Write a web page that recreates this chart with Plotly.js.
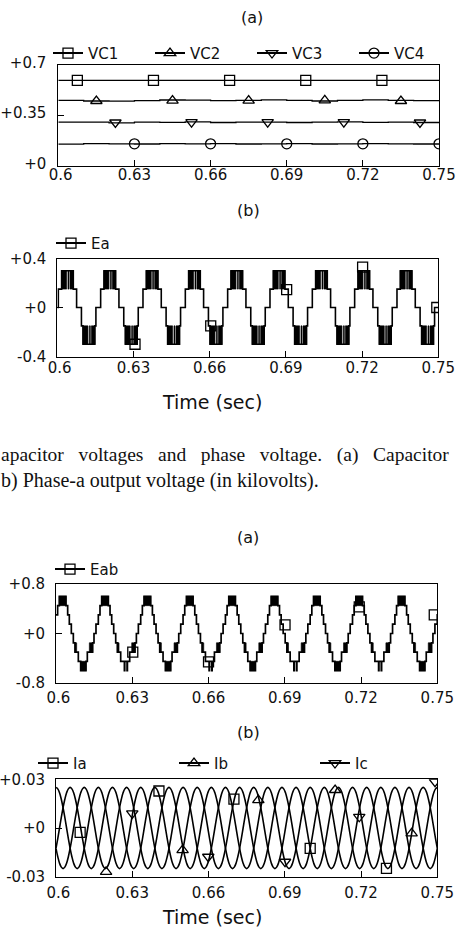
<!DOCTYPE html>
<html><head><meta charset="utf-8">
<script src="https://cdn.plot.ly/plotly-3.0.1.min.js"></script>
<style>html,body{margin:0;padding:0;background:#fff;}#chart{width:456px;height:932px;}</style>
</head><body><div id="chart"></div>
<script>
// ---------------- data ----------------
const xTickVals = [0.6, 0.63, 0.66, 0.69, 0.72, 0.75];
const xTickText = ['&nbsp;0.6', '0.63', '0.66', '0.69', '0.72', '0.75'];

// Fig (a) top: capacitor voltages (kV)
const vcTime = [0.6, 0.61, 0.62, 0.63, 0.64, 0.65, 0.66, 0.67, 0.68, 0.69, 0.70, 0.71, 0.72, 0.73, 0.74, 0.75];
const vc1 = [0.590, 0.591, 0.590, 0.590, 0.591, 0.590, 0.590, 0.591, 0.590, 0.590, 0.591, 0.590, 0.590, 0.590, 0.591, 0.590];
const vc2 = [0.452, 0.447, 0.446, 0.450, 0.454, 0.453, 0.449, 0.452, 0.455, 0.451, 0.447, 0.452, 0.455, 0.452, 0.449, 0.450];
const vc3 = [0.300, 0.300, 0.296, 0.301, 0.299, 0.302, 0.298, 0.300, 0.301, 0.298, 0.300, 0.302, 0.299, 0.300, 0.298, 0.300];
const vc4 = [0.148, 0.152, 0.150, 0.149, 0.151, 0.150, 0.152, 0.149, 0.150, 0.151, 0.149, 0.150, 0.151, 0.150, 0.149, 0.150];
const vc1MarkT = [0.6075, 0.6375, 0.6675, 0.6975, 0.7275];
const vc1MarkV = [0.590, 0.590, 0.590, 0.590, 0.590];
const vc2MarkT = [0.615, 0.645, 0.675, 0.705, 0.735];
const vc2MarkV = [0.447, 0.450, 0.450, 0.451, 0.447];
const vc3MarkT = [0.6225, 0.6525, 0.6825, 0.7125, 0.7425];
const vc3MarkV = [0.298, 0.300, 0.300, 0.300, 0.298];
const vc4MarkT = [0.63, 0.66, 0.69, 0.72, 0.75];
const vc4MarkV = [0.150, 0.150, 0.150, 0.150, 0.150];

// Fig (b) top: phase-a voltage, one fundamental cycle (ms) of the 5-level staircase
const fundPeriodMs = 1000 / 60;
const eaStepT = [0, 0.40, 1.70, 6.30, 7.60, 9.50, 10.10, 14.80, 15.20];
const eaStepV = [0, 0.15, 0.3, 0.15, 0, -0.15, -0.3, -0.15, 0];
// PWM switching bands (drawn solid) within a cycle
const eaBlkS = [1.70, 4.20, 5.00, 10.10, 12.60, 13.40];
const eaBlkE = [3.67, 4.60, 6.30, 12.07, 13.00, 14.80];
const eaBlkLo = [0.15, 0.15, 0.15, -0.3, -0.3, -0.3];
const eaBlkHi = [0.3, 0.3, 0.3, -0.15, -0.15, -0.15];
const eaMarkT = [0.6306, 0.6604, 0.6903, 0.7202, 0.7494];
const eaMarkV = [-0.30, -0.15, 0.146, 0.33, 0.0];

// Second figure (a): line voltage Eab, two-cycle pattern (ms)
const eabPatternMs = 2000 / 60;
const eabStepT = [0, 0.64, 1.30, 3.93, 4.59, 5.24, 6.03, 6.82, 7.47, 8.78, 9.70, 11.80, 12.32, 14.42, 14.95, 15.73, 16.65,
  17.31, 17.97, 20.60, 21.26, 21.91, 22.70, 23.49, 24.14, 25.45, 26.90, 27.05, 27.95, 28.10, 28.99, 31.09, 31.62, 32.40, 33.32];
const eabStepV = [0.3, 0.45, 0.6, 0.45, 0.3, 0.15, 0, -0.15, -0.3, -0.45, -0.6, -0.45, -0.3, -0.15, 0, 0.15, 0.3,
  0.45, 0.6, 0.45, 0.3, 0.15, 0, -0.15, -0.3, -0.45, -0.6, -0.45, -0.6, -0.45, -0.3, -0.15, 0, 0.15, 0.3];
const eabBlkS = [1.30, 7.47, 9.70, 13.11, 17.97, 24.14, 29.78];
const eabBlkE = [3.93, 8.13, 11.80, 14.42, 20.60, 24.80, 31.09];
const eabBlkLo = [0.45, -0.3, -0.6, -0.3, 0.45, -0.3, -0.3];
const eabBlkHi = [0.6, -0.15, -0.45, -0.15, 0.6, -0.15, -0.15];
const eabMarkT = [0.6302, 0.6600, 0.6901, 0.7193, 0.7488];
const eabMarkV = [-0.30, -0.46, 0.14, 0.43, 0.30];

// Second figure (b): line currents, one cycle sampled every 15 degrees
const iaCycle = [-0.0125, -0.0065, 0, 0.0065, 0.0125, 0.0177, 0.0217, 0.0241, 0.025, 0.0241, 0.0217, 0.0177,
  0.0125, 0.0065, 0, -0.0065, -0.0125, -0.0177, -0.0217, -0.0241, -0.025, -0.0241, -0.0217, -0.0177];
const ibCycle = [-0.0125, -0.0177, -0.0217, -0.0241, -0.025, -0.0241, -0.0217, -0.0177, -0.0125, -0.0065, 0, 0.0065,
  0.0125, 0.0177, 0.0217, 0.0241, 0.025, 0.0241, 0.0217, 0.0177, 0.0125, 0.0065, 0, -0.0065];
const icCycle = [0.025, 0.0241, 0.0217, 0.0177, 0.0125, 0.0065, 0, -0.0065, -0.0125, -0.0177, -0.0217, -0.0241,
  -0.025, -0.0241, -0.0217, -0.0177, -0.0125, -0.0065, 0, 0.0065, 0.0125, 0.0177, 0.0217, 0.0241];
const iaMarkT = [0.6095, 0.6405, 0.6700, 0.7000, 0.7300];
const iaMarkV = [-0.0027, 0.0228, 0.0178, -0.0126, -0.0249];
const ibMarkT = [0.6197, 0.6498, 0.6796, 0.7098, 0.7399];
const ibMarkV = [-0.0270, -0.0136, 0.0172, 0.0234, -0.0033];
const icMarkT = [0.6300, 0.6599, 0.6901, 0.7193, 0.7491];
const icMarkV = [0.0090, -0.0177, -0.0208, 0.0069, 0.0285];

const T0 = 0.6, T1 = 0.75;

// ---------------- builders (repeat read patterns along the time axis) ----------------
function stepWave(stepT, stepV, periodMs) {
  const x = [], y = [];
  let last = stepV[0];
  for (let k = 0; ; k++) {
    let done = false;
    for (let i = 0; i < stepT.length; i++) {
      const t = T0 + (k * periodMs + stepT[i]) / 1000;
      if (t > T1 + 1e-9) { done = true; break; }
      x.push(t); y.push(stepV[i]); last = stepV[i];
    }
    if (done) break;
  }
  x.push(T1); y.push(last);
  return {x, y};
}
function blocks(s, e, lo, hi, periodMs) {
  const x = [], y = [];
  for (let k = 0; T0 + k * periodMs / 1000 < T1; k++) {
    for (let i = 0; i < s.length; i++) {
      const a = T0 + (k * periodMs + s[i]) / 1000;
      let b = T0 + (k * periodMs + e[i]) / 1000;
      if (a >= T1) continue;
      if (b > T1) b = T1;
      x.push(a, b, b, a, a, null);
      y.push(lo[i], lo[i], hi[i], hi[i], lo[i], null);
    }
  }
  return {x, y};
}
function tileCycle(cyc) {
  const x = [], y = [];
  const n = cyc.length;
  for (let k = 0; k < 9; k++) {
    for (let i = 0; i < n; i++) {
      x.push(T0 + (k * fundPeriodMs + i * fundPeriodMs / n) / 1000);
      y.push(cyc[i]);
    }
  }
  x.push(T1); y.push(cyc[0]);
  return {x, y};
}
// isolated marker points (gaps between them so no connecting line is drawn)
function isolated(xs, ys) {
  const x = [], y = [];
  for (let i = 0; i < xs.length; i++) { x.push(xs[i], null); y.push(ys[i], null); }
  return {x, y};
}

// ---------------- traces ----------------
const BLACK = '#000';
const traces = [];
function lineTr(d, xa, ya, w, shape) {
  return {x: d.x, y: d.y, xaxis: xa, yaxis: ya, mode: 'lines', showlegend: false,
    line: {color: BLACK, width: w, shape: shape || 'linear'}, hoverinfo: 'skip'};
}
// marker trace that also provides the legend entry (line + symbol)
function markTr(xs, ys, xa, ya, sym, name, leg) {
  const d = isolated(xs, ys);
  return {x: d.x, y: d.y, xaxis: xa, yaxis: ya, name, legend: leg, showlegend: true, connectgaps: false,
    mode: 'lines+markers', line: {color: BLACK, width: 2},
    marker: {symbol: sym, size: 10, color: BLACK, line: {color: BLACK, width: 1.3}}, hoverinfo: 'skip'};
}
function blockTr(d, xa, ya) {
  return {x: d.x, y: d.y, xaxis: xa, yaxis: ya, mode: 'lines', fill: 'toself', fillcolor: BLACK,
    line: {color: BLACK, width: 0.6}, showlegend: false, hoverinfo: 'skip', connectgaps: false};
}

// panel 1
traces.push(lineTr({x: vcTime, y: vc1}, 'x', 'y', 1.3));
traces.push(lineTr({x: vcTime, y: vc2}, 'x', 'y', 1.3, 'hv'));
traces.push(lineTr({x: vcTime, y: vc3}, 'x', 'y', 1.3, 'hv'));
traces.push(lineTr({x: vcTime, y: vc4}, 'x', 'y', 1.3, 'hv'));
traces.push(markTr(vc1MarkT, vc1MarkV, 'x', 'y', 'square-open', 'VC1', 'legend'));
traces.push(markTr(vc2MarkT, vc2MarkV, 'x', 'y', 'triangle-up-open', 'VC2', 'legend'));
traces.push(markTr(vc3MarkT, vc3MarkV, 'x', 'y', 'triangle-down-open', 'VC3', 'legend'));
traces.push(markTr(vc4MarkT, vc4MarkV, 'x', 'y', 'circle-open', 'VC4', 'legend'));

// panel 2
traces.push(blockTr(blocks(eaBlkS, eaBlkE, eaBlkLo, eaBlkHi, fundPeriodMs), 'x2', 'y2'));
traces.push(lineTr(stepWave(eaStepT, eaStepV, fundPeriodMs), 'x2', 'y2', 1.6, 'hv'));
traces.push(markTr(eaMarkT, eaMarkV, 'x2', 'y2', 'square-open', 'Ea', 'legend2'));

// panel 3
traces.push(blockTr(blocks(eabBlkS, eabBlkE, eabBlkLo, eabBlkHi, eabPatternMs), 'x3', 'y3'));
traces.push(lineTr(stepWave(eabStepT, eabStepV, eabPatternMs), 'x3', 'y3', 1.7, 'hv'));
traces.push(markTr(eabMarkT, eabMarkV, 'x3', 'y3', 'square-open', 'Eab', 'legend3'));

// panel 4
traces.push(lineTr(tileCycle(iaCycle), 'x4', 'y4', 1.6, 'spline'));
traces.push(lineTr(tileCycle(ibCycle), 'x4', 'y4', 1.6, 'spline'));
traces.push(lineTr(tileCycle(icCycle), 'x4', 'y4', 1.6, 'spline'));
traces.push(markTr(iaMarkT, iaMarkV, 'x4', 'y4', 'square-open', 'Ia', 'legend4'));
traces.push(markTr(ibMarkT, ibMarkV, 'x4', 'y4', 'triangle-up-open', 'Ib', 'legend4'));
traces.push(markTr(icMarkT, icMarkV, 'x4', 'y4', 'triangle-down-open', 'Ic', 'legend4'));

// ---------------- layout ----------------
const W = 456, H = 932;
const px = v => v / W;
const py = v => 1 - v / H;
const TFONT = {family: 'DejaVu Sans', size: 15, color: '#111'};

function xAx(l, r, anchor, standoff) {
  return {domain: [px(l), px(r)], anchor, range: [T0, T1], tickmode: 'array', tickvals: xTickVals, ticktext: xTickText,
    ticks: 'inside', ticklen: 6, tickwidth: 1, tickcolor: BLACK, showline: true, mirror: true, linecolor: BLACK, linewidth: 1,
    showgrid: false, zeroline: false, tickfont: TFONT, fixedrange: true, ticklabelstandoff: standoff};
}
function yAx(top, bot, anchor, range, vals, text, standoff, shift) {
  return {domain: [py(bot), py(top)], anchor, range, tickmode: 'array', tickvals: vals, ticktext: text,
    ticks: 'inside', ticklen: 6, tickwidth: 1, tickcolor: BLACK, showline: true, mirror: true, linecolor: BLACK, linewidth: 1,
    showgrid: false, zeroline: false, tickfont: TFONT, fixedrange: true, ticklabelstandoff: standoff, ticklabelshift: shift};
}
function legend(xPix, yPix, ew) {
  return {orientation: 'h', x: px(xPix), xanchor: 'left', y: py(yPix), yanchor: 'middle', entrywidth: ew, entrywidthmode: 'pixels',
    font: {family: 'DejaVu Sans', size: 15, color: '#111'}, bgcolor: 'rgba(0,0,0,0)', borderwidth: 0, itemwidth: 30, tracegroupgap: 0};
}
function ann(text, xPix, yPix, size, family, anchor) {
  return {text, x: px(xPix), y: py(yPix), xref: 'paper', yref: 'paper', xanchor: anchor || 'center', yanchor: 'middle',
    showarrow: false, font: {family: family || 'DejaVu Sans', size, color: '#111'}};
}

const layout = {
  width: W, height: H, margin: {l: 0, r: 0, t: 0, b: 0}, paper_bgcolor: '#fff', plot_bgcolor: '#fff',
  hovermode: false,
  xaxis: xAx(58.3, 439, 'y', -5),
  yaxis: yAx(64.5, 165.5, 'x', [0, 0.7], [0, 0.35, 0.7], ['+0', '+0.35', '+0.7'], 8, -2),
  xaxis2: xAx(57.3, 438.3, 'y2', -3),
  yaxis2: yAx(258.5, 356.5, 'x2', [-0.4, 0.4], [-0.4, 0, 0.4], ['-0.4', '+0', '+0.4'], 7, 0),
  xaxis3: xAx(56, 437.3, 'y3', 1),
  yaxis3: yAx(584, 683, 'x3', [-0.8, 0.8], [-0.8, 0, 0.8], ['-0.8', '+0', '+0.8'], 7, 0),
  xaxis4: xAx(56, 437.3, 'y4', 2),
  yaxis4: yAx(779.3, 876.7, 'x4', [-0.03, 0.03], [-0.03, 0, 0.03], ['-0.03', '+0', '+0.03'], 7, 0),
  legend: legend(51, 53.3, 57),
  legend2: legend(51, 243.3, 57),
  legend3: legend(50, 569.3, 57),
  legend4: legend(49, 763.3, 96),
  annotations: [
    ann('(a)', 252, 17.5, 16),
    ann('(b)', 248, 211, 16),
    ann('Time (sec)', 212, 402, 19),
    ann('apacitor&nbsp;&nbsp;&nbsp;voltages&nbsp;&nbsp;&nbsp;and&nbsp;&nbsp;&nbsp;phase&nbsp;&nbsp;&nbsp;voltage.&nbsp;&nbsp;&nbsp;(a)&nbsp;&nbsp;&nbsp;Capacitor', -1, 455, 19.5, 'Liberation Serif', 'left'),
    ann('b) Phase-a output voltage (in kilovolts).', -1, 480, 20, 'Liberation Serif', 'left'),
    ann('(a)', 248, 537, 16),
    ann('(b)', 248, 732, 16),
    ann('Time (sec)', 212, 917, 19)
  ]
};

Plotly.newPlot('chart', traces, layout, {staticPlot: true, displayModeBar: false});
</script>
</body></html>
